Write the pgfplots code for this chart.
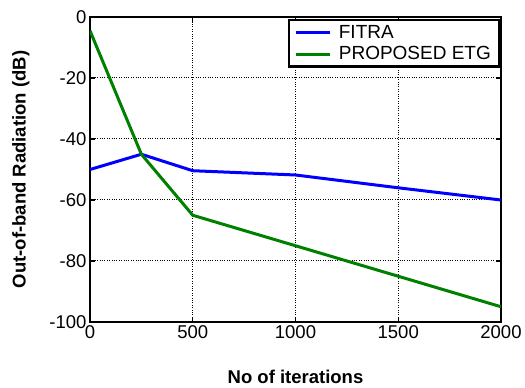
\documentclass[border=0pt]{standalone}
\usepackage{fontspec}
\setmainfont{Liberation Sans}
\usepackage{pgfplots}
\pgfplotsset{compat=1.18}
\definecolor{mblue}{RGB}{0,0,255}
\definecolor{mgreen}{RGB}{0,128,0}
\begin{document}
\begin{tikzpicture}
\begin{axis}[
  scale only axis,
  width=411pt, height=305pt,
  xmin=0, xmax=2000, ymin=-100, ymax=0,
  xtick={0,500,1000,1500,2000},
  ytick={-100,-80,-60,-40,-20,0},
  /pgf/number format/assume math mode=true,
  scaled x ticks=false,
  xticklabel style={/pgf/number format/1000 sep={}},
  tick label style={font=\fontsize{18.5}{20}\selectfont},
  tick align=inside,
  major tick length=5pt,
  tick style={black, line width=1.2pt},
  axis line style={line width=2.2pt},
  grid=major,
  major grid style={black, dotted, line width=1pt},
  xlabel={\textbf{No of iterations}},
  ylabel={\textbf{Out-of-band Radiation (dB)}},
  label style={font=\fontsize{18.5}{20}\selectfont},
  xlabel style={yshift=-25pt},
  ylabel style={yshift=13pt},
  legend style={at={(1,1)}, anchor=north east, draw=black, line width=2.2pt,
     font=\fontsize{19}{24}\selectfont, inner xsep=6pt, inner ysep=3pt, row sep=3pt,
     yshift=-2pt, xshift=-1pt,
     /tikz/every odd column/.style={column sep=5pt}},
  legend cell align=left,
  legend image code/.code={\draw[#1, line width=3pt] (0cm,0cm) -- (1.2cm,0cm);},
]
\addplot[mblue, line width=3pt] coordinates {(0,-50) (250,-45) (500,-50.4) (1000,-51.8) (1500,-56) (2000,-60)};
\addlegendentry{FITRA}
\addplot[mgreen, line width=3pt] coordinates {(0,-4.5) (250,-45) (500,-65) (1000,-75) (1500,-85) (2000,-95)};
\addlegendentry{PROPOSED ETG}
\end{axis}
\path (current axis.south west) ++(-90pt,-63pt) rectangle ++(525pt,385pt);
\end{tikzpicture}
\end{document}
